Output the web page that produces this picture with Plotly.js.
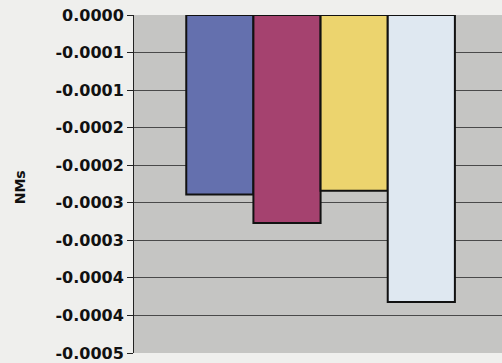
<!DOCTYPE html>
<html>
<head>
<meta charset="utf-8">
<script src="https://cdn.plot.ly/plotly-3.0.1.min.js"></script>
<style>html,body{margin:0;padding:0;background:#efefed;}</style>
</head>
<body>
<div id="chart" style="width:502px;height:363px;"></div>
<script>
const seriesNames = ["Series 1", "Series 2", "Series 3", "Series 4"];
const seriesValues = [-0.000239, -0.000277, -0.000234, -0.000382];
const seriesColors = ["#6470ae", "#a5426f", "#ecd46e", "#dfe8f1"];
const tickValues = [0, -0.00005, -0.0001, -0.00015, -0.0002, -0.00025, -0.0003, -0.00035, -0.0004, -0.00045];
const tickLabels = ["0.0000", "-0.0001", "-0.0001", "-0.0002", "-0.0002", "-0.0003", "-0.0003", "-0.0004", "-0.0004", "-0.0005"];
const yTitle = "NMs";
const category = "";

const traces = seriesNames.map((n, i) => ({
  type: "bar",
  name: n,
  x: [category],
  y: [seriesValues[i]],
  marker: {color: seriesColors[i], line: {color: "#111111", width: 2}},
  hoverinfo: "skip"
}));

const layout = {
  width: 502, height: 363,
  margin: {l: 134, r: 0, t: 15, b: 10},
  paper_bgcolor: "#efefed",
  plot_bgcolor: "#c5c5c3",
  showlegend: false,
  barmode: "group",
  bargap: 0.27,
  bargroupgap: 0,
  xaxis: {
    type: "category",
    range: [-0.507, 0.493],
    showticklabels: false,
    showgrid: false,
    zeroline: false,
    showline: false,
    ticks: ""
  },
  yaxis: {
    range: [-0.00045, 0],
    tickmode: "array",
    tickvals: tickValues,
    ticktext: tickLabels,
    tickfont: {family: "DejaVu Sans", size: 16, color: "#111111", weight: "bold"},
    ticks: "outside",
    ticklen: 6,
    tickcolor: "#222222",
    showline: true,
    linecolor: "#222222",
    linewidth: 1,
    showgrid: true,
    gridcolor: "#4a4a4a",
    gridwidth: 1.2,
    zeroline: false
  },
  annotations: [{
    text: yTitle,
    xref: "paper", yref: "paper",
    x: -0.31, y: 0.49,
    xanchor: "center", yanchor: "middle",
    textangle: -90,
    showarrow: false,
    font: {family: "DejaVu Sans", size: 14, color: "#111111", weight: "bold"}
  }]
};

Plotly.newPlot("chart", traces, layout, {staticPlot: true, displayModeBar: false});
</script>
</body>
</html>
